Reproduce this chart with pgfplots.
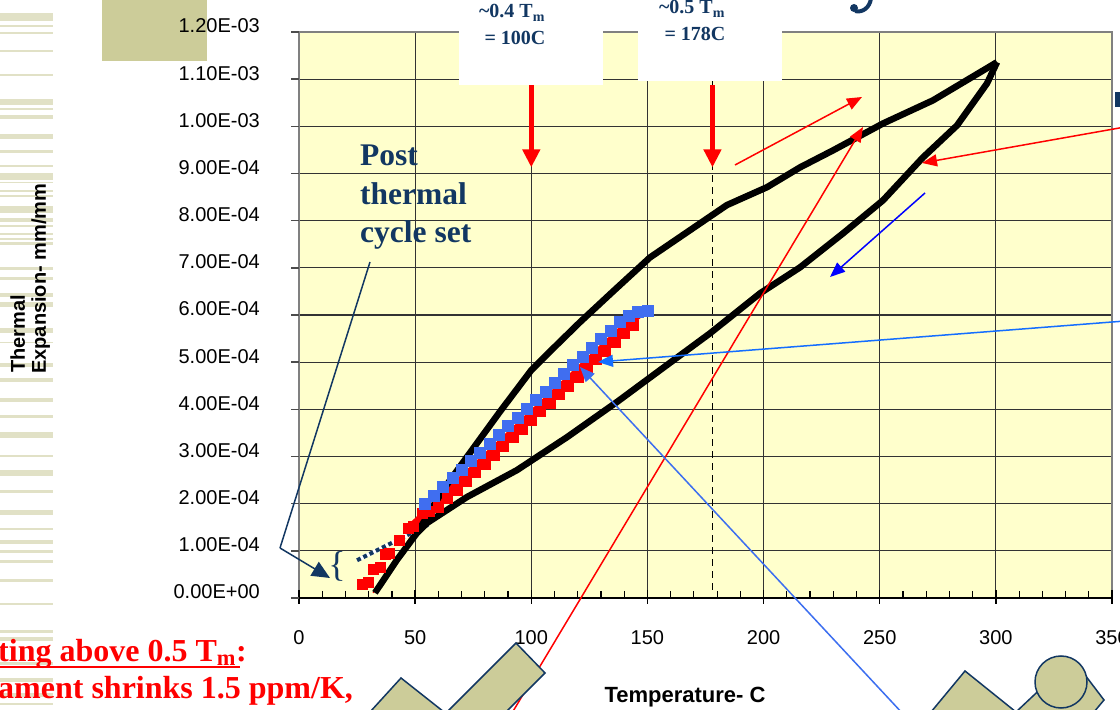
\documentclass[border=0pt]{standalone}
\usepackage{pgfplots}
\pgfplotsset{compat=1.18}
\usepackage{fontspec}
\setmainfont{Liberation Sans}
\newfontfamily\serif{Liberation Serif}
\usetikzlibrary{arrows.meta}
\definecolor{plotbg}{RGB}{255,255,204}
\definecolor{navy}{RGB}{18,55,98}
\definecolor{beige}{RGB}{204,204,153}
\definecolor{stripe}{RGB}{225,225,198}
\definecolor{sqblue}{RGB}{64,110,240}
\definecolor{ltblue}{RGB}{20,110,255}
\definecolor{midblue}{RGB}{60,110,240}
\newcommand{\fs}[2]{\fontsize{#1}{#2}\selectfont}
\begin{document}
\begin{tikzpicture}[x=1pt,y=1pt]
\useasboundingbox (0,0) rectangle (1120,710);
\clip (0,0) rectangle (1120,710);
\fill[white] (0,0) rectangle (1120,710);
\begin{scope}[shift={(0,710)},y=-1pt]
\foreach \a/\b in {13/21,25/27,32/34,50/52,74/76,99/105,108/110,115/119,134/139,150/153,165/167,173/180,182/183,190/192,195/197,206/213,218/222,225/227,233/235,238/240,242/245,267/270,277/280,293/297,302/307,328/333,342/343,363/367,378/382,398/402,415/418,432/438,455/457,470/476,490/493,510/515,528/530,540/544,550/553,560/563,579/582,603/605,630/633,637/641,662/665,678/682,693/697,703/705}
  \fill[stripe] (0,\a) rectangle (53,\b);
\fill[beige] (102,0) rectangle (207,61);
\end{scope}
\begin{axis}[
  at={(299pt,112pt)}, anchor=south west,
  scale only axis, width=813pt, height=566pt,
  xmin=0, xmax=350, ymin=0, ymax=0.0012,
  axis background/.style={fill=plotbg},
  xtick={0,50,100,150,200,250,300,350},
  xticklabels={0,50,100,150,200,250,300,350},
  ytick={0,0.0001,0.0002,0.0003,0.0004,0.0005,0.0006,0.0007,0.0008,0.0009,0.001,0.0011,0.0012},
  yticklabels={0.00E+00,1.00E-04,2.00E-04,3.00E-04,4.00E-04,5.00E-04,6.00E-04,7.00E-04,8.00E-04,9.00E-04,1.00E-03,1.10E-03,1.20E-03},
  scaled y ticks=false,
  grid=major, major grid style={draw=black!80, line width=1.1pt},
  major tick length=0pt, minor tick length=0pt,
  axis line style={draw=black!50, line width=2pt},
  tick label style={font=\fs{20}{24}, text=black},
  xticklabel style={anchor=center, inner sep=0pt, yshift=-40pt},
  yticklabel style={anchor=east, inner sep=0pt, xshift=-39pt, yshift=6pt},
  xlabel={Temperature- C},
  xlabel style={at={(axis description cs:0.4748,-0.1855)}, anchor=base, font=\bfseries\fs{22}{26}, inner sep=0pt},
]
% heated samples (red squares)
\addplot[only marks, mark=square*, mark size=5pt, mark options={draw=red, fill=red}] coordinates {
(27,0.30e-4)(30,0.33e-4)(32,0.62e-4)(35,0.65e-4)(37,0.92e-4)(39,0.95e-4)(43,1.22e-4)(47,1.48e-4)(49,1.52e-4)(53,1.80e-4)(56,1.85e-4)
(60,1.92e-4)(64,2.11e-4)(68,2.29e-4)(72,2.48e-4)(76,2.66e-4)(80,2.84e-4)(84,3.03e-4)(88,3.21e-4)(92,3.40e-4)(96,3.58e-4)
(100,3.77e-4)(104,3.95e-4)(108,4.13e-4)(112,4.32e-4)(116,4.50e-4)(120,4.69e-4)(124,4.87e-4)(128,5.06e-4)(132,5.24e-4)(136,5.42e-4)(140,5.61e-4)(144,5.79e-4)};
% blue squares
\addplot[only marks, mark=square*, mark size=5.5pt, mark options={draw=sqblue, fill=sqblue}] coordinates {
(54,1.99e-4)(58,2.17e-4)(62,2.35e-4)(66,2.54e-4)(70,2.72e-4)(74,2.91e-4)(78,3.09e-4)(82,3.28e-4)(86,3.46e-4)(90,3.65e-4)
(94,3.83e-4)(98,4.01e-4)(102,4.20e-4)(106,4.38e-4)(110,4.57e-4)(114,4.75e-4)(118,4.94e-4)(122,5.12e-4)(126,5.30e-4)(130,5.49e-4)
(134,5.67e-4)(138,5.86e-4)(142,5.98e-4)(146,6.08e-4)(150,6.10e-4)};
% red fit line
\addplot[red, line width=1.3pt] coordinates {(31.9,0.11e-4)(49.5,1.40e-4)};
\addplot[red, line width=8pt] coordinates {(47.8,1.48e-4)(145.9,6.00e-4)};
% post thermal cycle set
\addplot[white, line width=4pt] coordinates {(25,0.80e-4)(55.5,1.55e-4)};
\addplot[navy, line width=4pt, dash pattern=on 4pt off 3pt] coordinates {(25,0.80e-4)(55.5,1.55e-4)};
% heating curve
\addplot[black, line width=6.5pt, line join=round] coordinates {
(32.7,0.11e-4)(42.2,0.81e-4)(50.8,1.38e-4)(55.1,1.72e-4)(62.0,2.29e-4)(72.3,2.99e-4)(86.5,3.95e-4)(100,4.83e-4)
(110,5.32e-4)(121,5.85e-4)(135.2,6.50e-4)(151.1,7.22e-4)(184.2,8.33e-4)(201.5,8.71e-4)(215.7,9.13e-4)(229.9,9.49e-4)
(251.4,10.06e-4)(272.9,10.55e-4)(300.5,11.36e-4)};
% cooling curve
\addplot[black, line width=6.5pt, line join=round] coordinates {
(300.5,11.36e-4)(296.2,10.91e-4)(283.3,10.02e-4)(268.6,9.34e-4)(251.4,8.43e-4)(234.2,7.73e-4)(215.7,7.01e-4)
(198.5,6.46e-4)(176.9,5.61e-4)(155.4,4.83e-4)(137.0,4.16e-4)(115.4,3.41e-4)(93.8,2.71e-4)(72.3,2.14e-4)(55.1,1.59e-4)(50.8,1.38e-4)};
% 0.5 Tm line
\addplot[black, line width=1.8pt, dash pattern=on 7pt off 5pt] coordinates {(178,0.17e-4)(178,10.97e-4)};
\addplot[red, line width=5pt, -{Triangle[length=18pt,width=17pt]}] coordinates {(100,10.87e-4)(100,9.13e-4)};
\addplot[red, line width=5pt, -{Triangle[length=18pt,width=17pt]}] coordinates {(178,10.87e-4)(178,9.13e-4)};
\end{axis}
\node[rotate=90, anchor=base west, font=\bfseries\fs{20}{24}, inner sep=0pt] at (25,337) {Thermal};
\node[rotate=90, anchor=base west, font=\bfseries\fs{20}{24}, inner sep=0pt] at (46,336) {Expansion- mm/mm};
\begin{scope}[shift={(0,710)},y=-1pt]
% ticks
\foreach \k in {0,...,7} \draw[black, line width=1.5pt] ({299+116.14*\k},590)--++(0,14);
\foreach \k in {1,...,34} \draw[black, line width=1.2pt] ({299+23.229*\k},591)--++(0,7);
\foreach \k in {0,...,12} \draw[black!70, line width=1.5pt] (291,{598-47.167*\k})--(299,{598-47.167*\k});
\draw[black, line width=1.8pt] (299,598)--(1112,598);
% label boxes
\fill[white] (459,0) rectangle (603,85);
\fill[white] (638,0) rectangle (782,81);
\begin{scope}[every node/.style={font=\serif\bfseries\fs{20}{24}, text=navy, anchor=base, inner sep=0pt}]
\node at (512,18) {\textasciitilde0.4 T\textsubscript{m}};
\node at (515,45) {= 100C};
\node at (692,14) {\textasciitilde0.5 T\textsubscript{m}};
\node at (695,41) {= 178C};
\end{scope}
\begin{scope}[every node/.style={font=\serif\bfseries\fs{31.5}{38}, text=navy, anchor=base west, inner sep=0pt}]
\node at (360,166) {Post};
\node at (360,205) {thermal};
\node at (360,243) {cycle set};
\end{scope}
\node[font=\serif\fs{36}{36}, text=navy, inner sep=0pt] at (337,566) {\{};
% annotation arrows
\draw[red, line width=1.5pt, -{Triangle[length=15pt,width=12pt]}] (735,165)--(862,97);
\draw[red, line width=1.5pt, -{Triangle[length=15pt,width=12pt]}] (509,718)--(863,127);
\draw[red, line width=1.5pt, -{Triangle[length=15pt,width=12pt]}] (1125,127)--(922,163);
\draw[blue, line width=1.5pt, -{Triangle[length=15pt,width=12pt]}] (925,193)--(830,277);
\draw[ltblue, line width=1.5pt, -{Triangle[length=15pt,width=12pt]}] (1125,321)--(598,362);
\draw[midblue, line width=1.5pt, -{Triangle[length=15pt,width=12pt]}] (904,715)--(580,367);
\draw[navy, line width=1.5pt] (370,262)--(280,548);
\draw[navy, line width=1.5pt, -{Triangle[length=18pt,width=16pt]}] (280,548)--(330,578);
% slide decorations
\filldraw[fill=beige, draw=navy, line width=1.5pt] (370,712)--(401,678)--(444,712);
\filldraw[fill=beige, draw=navy, line width=1.5pt] (447,712)--(516,643)--(545,673)--(506,712);
\filldraw[fill=beige, draw=navy, line width=1.5pt] (931,712)--(965,671)--(1016,712);
\filldraw[fill=beige, draw=navy, line width=1.5pt] (1016,712)--(1050,680)--(1085,675)--(1104,700)--(1094,712);
\filldraw[fill=beige, draw=navy, line width=1.5pt] (1061,682) circle (26);
\draw[navy, line width=4pt] (871,-2) .. controls (870,8) and (862,13) .. (855,11);
\fill[navy] (854,8) circle (4);
\fill[navy] (1115,92) rectangle (1120,107);
% red text
\node[anchor=base west, inner sep=0pt, text=red, font=\serif\bfseries\fs{32}{38}] at (-2,662) {ting above 0.5 T\textsubscript{m}:};
\draw[red, line width=2.5pt] (-2,667)--(240,667);
\node[anchor=base west, inner sep=0pt, text=red, font=\serif\bfseries\fs{32}{38}] at (-2,698) {ament shrinks 1.5 ppm/K,};
\end{scope}
\end{tikzpicture}
\end{document}
